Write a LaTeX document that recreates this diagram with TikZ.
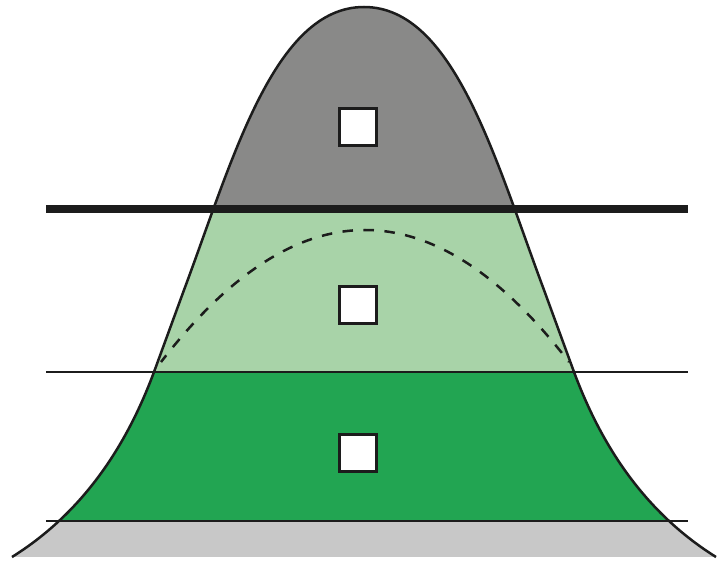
\documentclass[tikz,border=0pt]{standalone}
\definecolor{topgray}{RGB}{137,137,136}
\definecolor{lightgreen}{RGB}{168,211,168}
\definecolor{midgreen}{RGB}{34,165,82}
\definecolor{basegray}{RGB}{200,200,200}
\definecolor{inkblack}{RGB}{28,28,28}
\begin{document}
\begin{tikzpicture}[x=1pt,y=-1pt,
  sq/.style={draw=inkblack,fill=white,line width=3pt,minimum size=37pt,inner sep=0pt},
  levelline/.style={draw=inkblack,line width=2pt},
  thickline/.style={draw=inkblack,line width=8pt},
  bellline/.style={draw=inkblack,line width=2.5pt},
  dashline/.style={draw=inkblack,line width=2.5pt,dash pattern=on 10.5pt off 10.5pt,dash phase=2pt}]
\useasboundingbox (0,0) rectangle (725,561);
\def\bellcurve{(12,557) .. controls (92,507) and (131.6,432) .. (154,372) -- (184,290) .. controls (232.6,160) and (274,7) .. (364,7) .. controls (454,7) and (495.4,160) .. (544,290) -- (574,372) .. controls (596.4,432) and (636,507) .. (716,557)}
\begin{scope}
  \clip \bellcurve -- cycle;
  \fill[basegray] (0,521) rectangle (725,557);
  \fill[midgreen] (0,372) rectangle (725,521);
  \fill[lightgreen] (0,209) rectangle (725,372);
  \fill[topgray] (0,0) rectangle (725,209);
\end{scope}
\coordinate (da) at (161,362);
\coordinate (db) at (569,362);
\draw[dashline] (da) .. controls (297,186) and (433,186) .. (db);
\draw[bellline] \bellcurve;
\coordinate (l1a) at (46,209); \coordinate (l1b) at (688,209);
\coordinate (l2a) at (46,372); \coordinate (l2b) at (688,372);
\coordinate (l3a) at (46,521); \coordinate (l3b) at (688,521);
\draw[thickline] (l1a) -- (l1b);
\draw[levelline] (l2a) -- (l2b);
\draw[levelline] (l3a) -- (l3b);
\node[sq] (s1) at (358,127) {};
\node[sq] (s2) at (358,305) {};
\node[sq] (s3) at (358,453) {};
\end{tikzpicture}
\end{document}
